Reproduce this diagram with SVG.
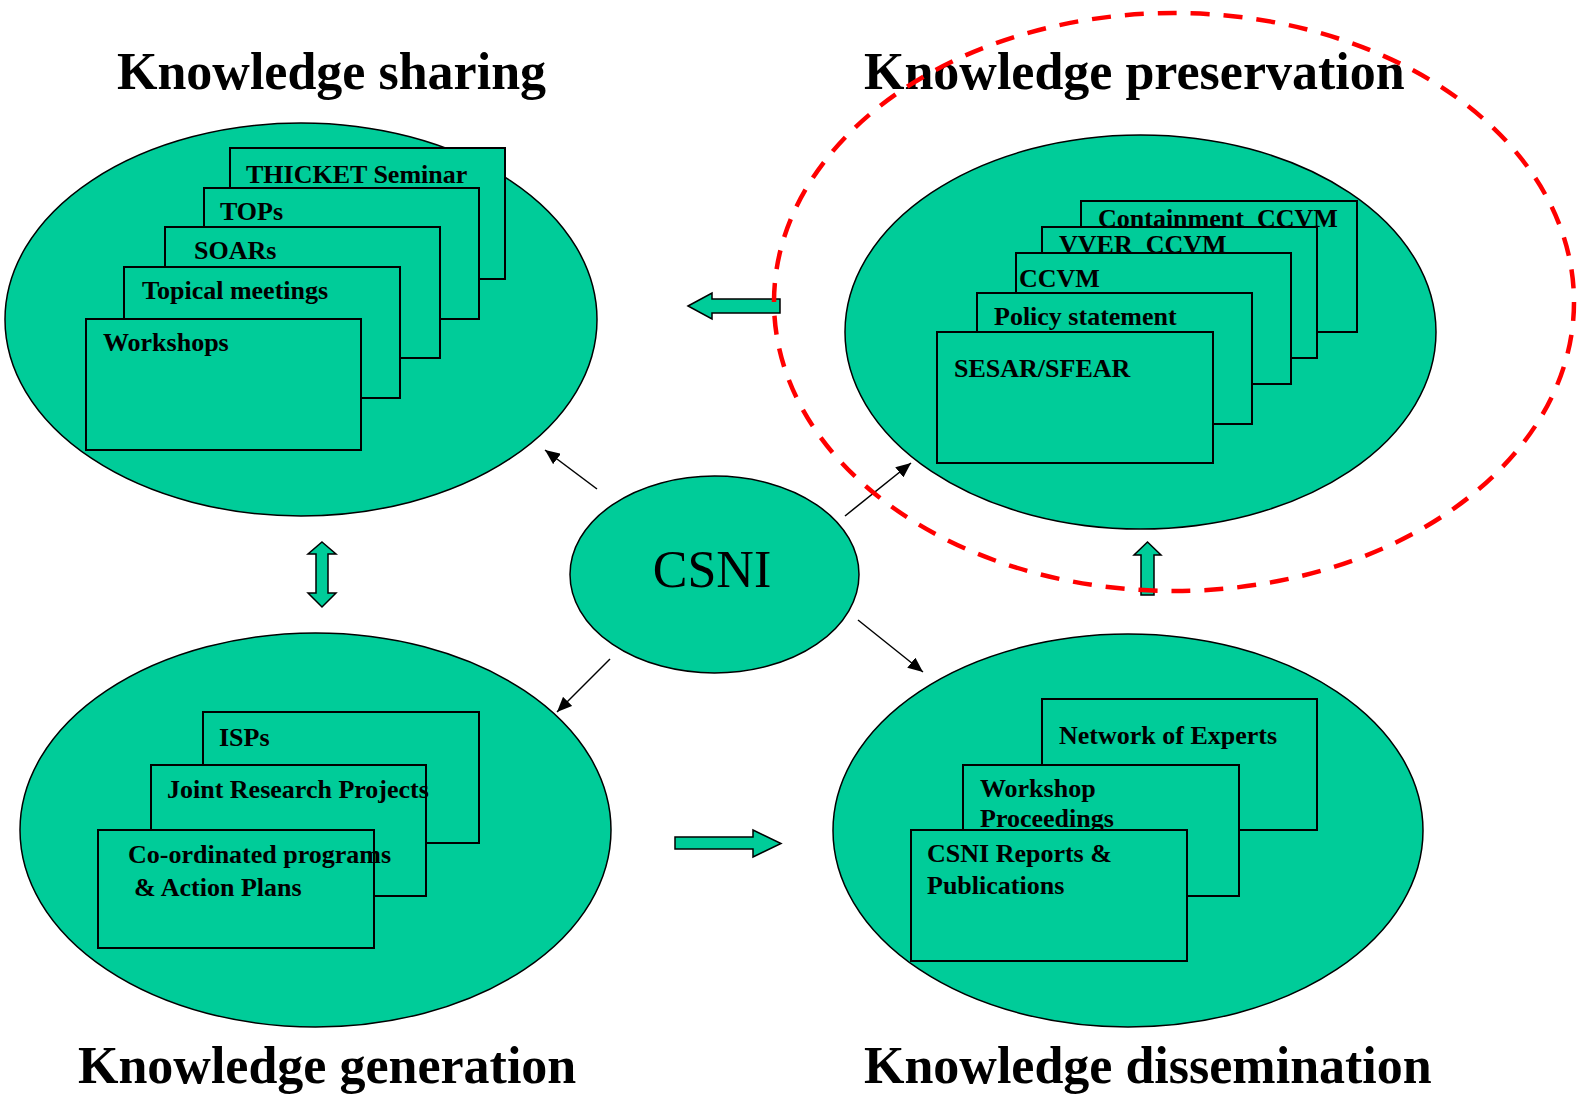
<svg xmlns="http://www.w3.org/2000/svg" width="1579" height="1096" viewBox="0 0 1579 1096">
<style>
.bg{fill:#FFFFFF}
.big{fill:#00CC99;stroke:#000;stroke-width:1.5}
.card{fill:#00CC99;stroke:#000;stroke-width:2}
.lbl{font-family:"Liberation Serif","Times New Roman",serif;font-weight:bold;font-size:26px;fill:#000}
.title{font-family:"Liberation Serif","Times New Roman",serif;font-weight:bold;font-size:52px;fill:#000}
.csni{font-family:"Liberation Serif","Times New Roman",serif;font-size:52px;fill:#000}
.conn{stroke:#000;stroke-width:1.5;fill:none;marker-end:url(#ah)}
.blk{fill:#00CC99;stroke:#000;stroke-width:1.5;stroke-linejoin:miter}
.hl{fill:none;stroke:#FF0000;stroke-width:4.5;stroke-dasharray:19 14}
</style>
<defs>
<marker id="ah" markerUnits="userSpaceOnUse" markerWidth="15" markerHeight="13" refX="15" refY="6.5" orient="auto">
<path d="M0,0 L15,6.5 L0,13 Z" fill="#000"/>
</marker>
</defs>
<rect class="bg" x="0" y="0" width="1579" height="1096"/>

<g id="sharing">
<ellipse class="big" cx="301" cy="319.5" rx="296" ry="196.5"/>
<rect class="card" x="230" y="148" width="275" height="131"/>
<text class="lbl" x="246" y="183">THICKET Seminar</text>
<rect class="card" x="204" y="188" width="275" height="131"/>
<text class="lbl" x="220" y="220">TOPs</text>
<rect class="card" x="165" y="227" width="275" height="131"/>
<text class="lbl" x="194" y="259">SOARs</text>
<rect class="card" x="124" y="267" width="276" height="131"/>
<text class="lbl" x="142" y="299">Topical meetings</text>
<rect class="card" x="86" y="319" width="275" height="131"/>
<text class="lbl" x="103" y="351">Workshops</text>
<text class="title" x="117" y="89">Knowledge sharing</text>
</g>

<g id="preservation">
<ellipse class="big" cx="1140.5" cy="332" rx="295.5" ry="197"/>
<rect class="card" x="1081" y="201" width="276" height="131"/>
<text class="lbl" x="1098" y="227" xml:space="preserve">Containment  CCVM</text>
<rect class="card" x="1042" y="227" width="275" height="131"/>
<text class="lbl" x="1059" y="253" xml:space="preserve">VVER  CCVM</text>
<rect class="card" x="1016" y="253" width="275" height="131"/>
<text class="lbl" x="1019" y="287">CCVM</text>
<rect class="card" x="977" y="293" width="275" height="131"/>
<text class="lbl" x="994" y="325">Policy statement</text>
<rect class="card" x="937" y="332" width="276" height="131"/>
<text class="lbl" x="954" y="377">SESAR/SFEAR</text>
<text class="title" x="864" y="89">Knowledge preservation</text>
</g>

<g id="generation">
<ellipse class="big" cx="315.5" cy="830" rx="295.5" ry="197"/>
<rect class="card" x="203" y="712" width="276" height="131"/>
<text class="lbl" x="219" y="746">ISPs</text>
<rect class="card" x="151" y="765" width="275" height="131"/>
<text class="lbl" x="167" y="798">Joint Research Projects</text>
<rect class="card" x="98" y="830" width="276" height="118"/>
<text class="lbl" x="128" y="863">Co-ordinated programs</text>
<text class="lbl" x="134" y="896">&amp; Action Plans</text>
<text class="title" x="78" y="1083">Knowledge generation</text>
</g>

<g id="dissemination">
<ellipse class="big" cx="1128" cy="830.5" rx="295" ry="196.5"/>
<rect class="card" x="1042" y="699" width="275" height="131"/>
<text class="lbl" x="1059" y="744">Network of Experts</text>
<rect class="card" x="963" y="765" width="276" height="131"/>
<text class="lbl" x="980" y="797">Workshop</text>
<text class="lbl" x="980" y="827">Proceedings</text>
<rect class="card" x="911" y="830" width="276" height="131"/>
<text class="lbl" x="927" y="862">CSNI Reports &amp;</text>
<text class="lbl" x="927" y="894">Publications</text>
<text class="title" x="864" y="1083">Knowledge dissemination</text>
</g>

<g id="csni">
<ellipse class="big" cx="714.5" cy="574.5" rx="144.5" ry="98.5"/>
<text class="csni" x="712" y="587" text-anchor="middle">CSNI</text>
</g>

<g id="connectors">
<line class="conn" x1="597" y1="489" x2="545" y2="450"/>
<line class="conn" x1="845" y1="516" x2="911" y2="463"/>
<line class="conn" x1="858" y1="620" x2="923" y2="672"/>
<line class="conn" x1="610" y1="659" x2="557" y2="712"/>
<path class="blk" d="M688,306 L712,293 L712,299 L780,299 L780,313 L712,313 L712,319 Z"/>
<path class="blk" d="M322,542 L336,554 L328,554 L328,593 L336,593 L322,607 L308,593 L316,593 L316,554 L308,554 Z"/>
<path class="blk" d="M675,837 L753,837 L753,830 L781,843.5 L753,857 L753,849 L675,849 Z"/>
<path class="blk" d="M1147.5,542 L1161,555 L1154,555 L1154,595 L1141,595 L1141,555 L1134,555 Z"/>
</g>

<g id="highlight">
<ellipse class="hl" cx="1174" cy="302" rx="400" ry="289"/>
</g>
</svg>
